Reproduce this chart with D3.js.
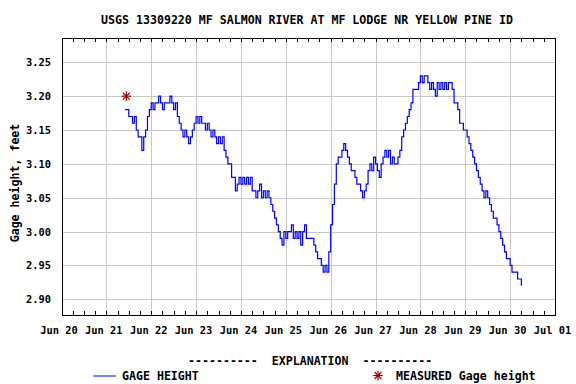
<!DOCTYPE html>
<html>
<head>
<meta charset="utf-8">
<script src="https://cdn.jsdelivr.net/npm/d3@7"></script>
<style>
  html, body { margin: 0; padding: 0; background: #ffffff; }
  svg { display: block; }
  text { font-family: "DejaVu Sans Mono", "Liberation Mono", monospace; font-weight: bold; fill: #000; }
</style>
</head>
<body>
<svg id="chart" width="576" height="384"></svg>
<script>
// ---------------- DATA ----------------
const chartTitle = "USGS 13309220 MF SALMON RIVER AT MF LODGE NR YELLOW PINE ID";
const yAxisTitle = "Gage height, feet";
const xTickLabels = ["Jun 20","Jun 21","Jun 22","Jun 23","Jun 24","Jun 25","Jun 26","Jun 27","Jun 28","Jun 29","Jun 30","Jul 01"];
const xTickDates = ["2011-06-20","2011-06-21","2011-06-22","2011-06-23","2011-06-24","2011-06-25","2011-06-26","2011-06-27","2011-06-28","2011-06-29","2011-06-30","2011-07-01"];
const yTickValues = [2.90, 2.95, 3.00, 3.05, 3.10, 3.15, 3.20, 3.25];
const yTickLabels = ["2.90","2.95","3.00","3.05","3.10","3.15","3.20","3.25"];

// Hourly gage height readings (feet), first reading 2011-06-21 10:00
const seriesStart = "2011-06-21T10:00:00Z";
const gageHeight = [
  3.18,3.18,3.17,3.17,3.16,3.17,3.15,3.14,3.14,3.12,3.14,3.15,3.17,3.18,
  3.19,3.18,3.19,3.19,3.20,3.19,3.18,3.19,3.19,3.19,3.20,3.19,3.18,3.19,
  3.17,3.16,3.15,3.14,3.15,3.14,3.13,3.14,3.15,3.16,3.17,3.16,3.17,3.16,
  3.16,3.15,3.16,3.15,3.14,3.15,3.14,3.13,3.14,3.13,3.14,3.12,3.11,3.10,
  3.10,3.08,3.08,3.06,3.07,3.08,3.07,3.08,3.07,3.08,3.07,3.08,3.06,3.06,
  3.05,3.06,3.07,3.05,3.06,3.05,3.06,3.05,3.04,3.03,3.02,3.01,3.00,2.99,
  2.98,3.00,2.99,3.00,3.00,3.01,2.99,3.00,2.99,3.00,2.98,3.00,3.01,2.99,
  2.99,2.99,2.99,2.98,2.97,2.96,2.96,2.95,2.94,2.95,2.94,2.97,3.01,3.04,
  3.07,3.10,3.11,3.11,3.12,3.13,3.12,3.11,3.10,3.09,3.09,3.08,3.07,3.07,
  3.06,3.05,3.06,3.07,3.09,3.10,3.09,3.11,3.10,3.09,3.08,3.10,3.11,3.12,
  3.11,3.12,3.10,3.11,3.10,3.10,3.11,3.12,3.14,3.15,3.16,3.17,3.18,3.19,
  3.21,3.21,3.21,3.22,3.23,3.22,3.23,3.23,3.22,3.21,3.22,3.21,3.20,3.22,
  3.21,3.22,3.21,3.22,3.21,3.22,3.22,3.21,3.19,3.19,3.18,3.16,3.16,3.15,
  3.15,3.14,3.13,3.12,3.11,3.10,3.09,3.08,3.07,3.06,3.05,3.06,3.05,3.04,
  3.03,3.02,3.02,3.01,3.00,2.99,2.98,2.97,2.96,2.96,2.95,2.94,2.94,2.94,
  2.93,2.93,2.92
];
const measuredTime = ["2011-06-21T10:40:00Z"];
const measuredValue = [3.20];

const legendHeader = "----------  EXPLANATION  ----------";
const legendLineLabel = "GAGE HEIGHT";
const legendStarLabel = "MEASURED Gage height";

// ---------------- CHART ----------------
const svg = d3.select("#chart");
const W = 576, H = 384;
const plot = { left: 62, right: 555, top: 38, bottom: 315 };

const x = d3.scaleUtc()
  .domain([new Date(xTickDates[0] + "T00:00:00Z"), new Date(xTickDates[xTickDates.length - 1] + "T00:00:00Z")])
  .range([plot.left - 0.5, plot.right]);
const y = d3.scaleLinear()
  .domain([2.8768, 3.2859])
  .range([plot.bottom, plot.top]);

const t0 = new Date(seriesStart).getTime();
const series = gageHeight.map((v, i) => ({ t: new Date(t0 + i * 3600e3), v }));
const measured = measuredTime.map((t, i) => ({ t: new Date(t), v: measuredValue[i] }));

svg.append("rect").attr("width", W).attr("height", H).attr("fill", "#ffffff");

// grid
const gridColor = "#c8c8c8";
const g = svg.append("g");
xTickDates.forEach(d => {
  const xx = Math.round(x(new Date(d + "T00:00:00Z"))) + 0.5;
  g.append("line").attr("x1", xx).attr("x2", xx).attr("y1", plot.top).attr("y2", plot.bottom)
    .attr("stroke", gridColor).attr("stroke-width", 1);
});
yTickValues.forEach(v => {
  const yy = Math.round(y(v)) + 0.5;
  g.append("line").attr("x1", plot.left).attr("x2", plot.right).attr("y1", yy).attr("y2", yy)
    .attr("stroke", gridColor).attr("stroke-width", 1);
});

// minor ticks every 6 hours on top and bottom
const sixHours = d3.utcHour.every(6).range(x.domain()[0], d3.utcHour.offset(x.domain()[1], 1));
sixHours.forEach(d => {
  const xx = Math.round(x(d)) + 0.5;
  g.append("line").attr("x1", xx).attr("x2", xx).attr("y1", plot.bottom).attr("y2", plot.bottom - 4)
    .attr("stroke", "#000").attr("stroke-width", 1);
  g.append("line").attr("x1", xx).attr("x2", xx).attr("y1", plot.top).attr("y2", plot.top + 4)
    .attr("stroke", "#000").attr("stroke-width", 1);
});

// frame
svg.append("rect")
  .attr("x", plot.left + 0.5).attr("y", plot.top + 0.5)
  .attr("width", plot.right - plot.left).attr("height", plot.bottom - plot.top)
  .attr("fill", "none").attr("stroke", "#000").attr("stroke-width", 1);

// series line
const line = d3.line().x(d => x(d.t)).y(d => y(d.v)).curve(d3.curveStepAfter);
svg.append("path").datum(series)
  .attr("d", line)
  .attr("fill", "none").attr("stroke", "#0000ff").attr("stroke-width", 1.2);

// star marker
function star(sel, cx, cy, r) {
  const gs = sel.append("g").attr("stroke", "#a00000").attr("stroke-width", 1.2);
  const d = r * 0.72;
  gs.append("line").attr("x1", cx - r).attr("x2", cx + r).attr("y1", cy).attr("y2", cy);
  gs.append("line").attr("x1", cx).attr("x2", cx).attr("y1", cy - r).attr("y2", cy + r);
  gs.append("line").attr("x1", cx - d).attr("x2", cx + d).attr("y1", cy - d).attr("y2", cy + d);
  gs.append("line").attr("x1", cx - d).attr("x2", cx + d).attr("y1", cy + d).attr("y2", cy - d);
}
measured.forEach(m => star(svg, x(m.t), y(m.v), 4.8));

// axis labels
const yl = svg.append("g").attr("font-size", "10.4px");
yTickValues.forEach((v, i) => {
  yl.append("text").attr("x", 51).attr("y", y(v) + 4)
    .attr("text-anchor", "end").text(yTickLabels[i]);
});
const xl = svg.append("g").attr("font-size", "10.4px");
xTickDates.forEach((d, i) => {
  xl.append("text").attr("x", x(new Date(d + "T00:00:00Z")) - 2.5).attr("y", 334)
    .attr("text-anchor", "middle").text(xTickLabels[i]);
});

// titles
svg.append("text").attr("x", 307).attr("y", 24).attr("text-anchor", "middle")
  .attr("font-size", "11.6px").text(chartTitle);
svg.append("text").attr("transform", "translate(19,183) rotate(-90)")
  .attr("text-anchor", "middle").attr("font-size", "11.6px").text(yAxisTitle);

// legend
svg.append("text").attr("x", 188).attr("y", 365).attr("font-size", "11.6px")
  .style("white-space", "pre").text(legendHeader);
svg.append("line").attr("x1", 93).attr("x2", 116).attr("y1", 376).attr("y2", 376)
  .attr("stroke", "#0000ff").attr("stroke-width", 1);
svg.append("text").attr("x", 122).attr("y", 380).attr("font-size", "11.6px").text(legendLineLabel);
star(svg, 378, 375.5, 4.8);
svg.append("text").attr("x", 396).attr("y", 380).attr("font-size", "11.6px").text(legendStarLabel);
</script>
</body>
</html>
